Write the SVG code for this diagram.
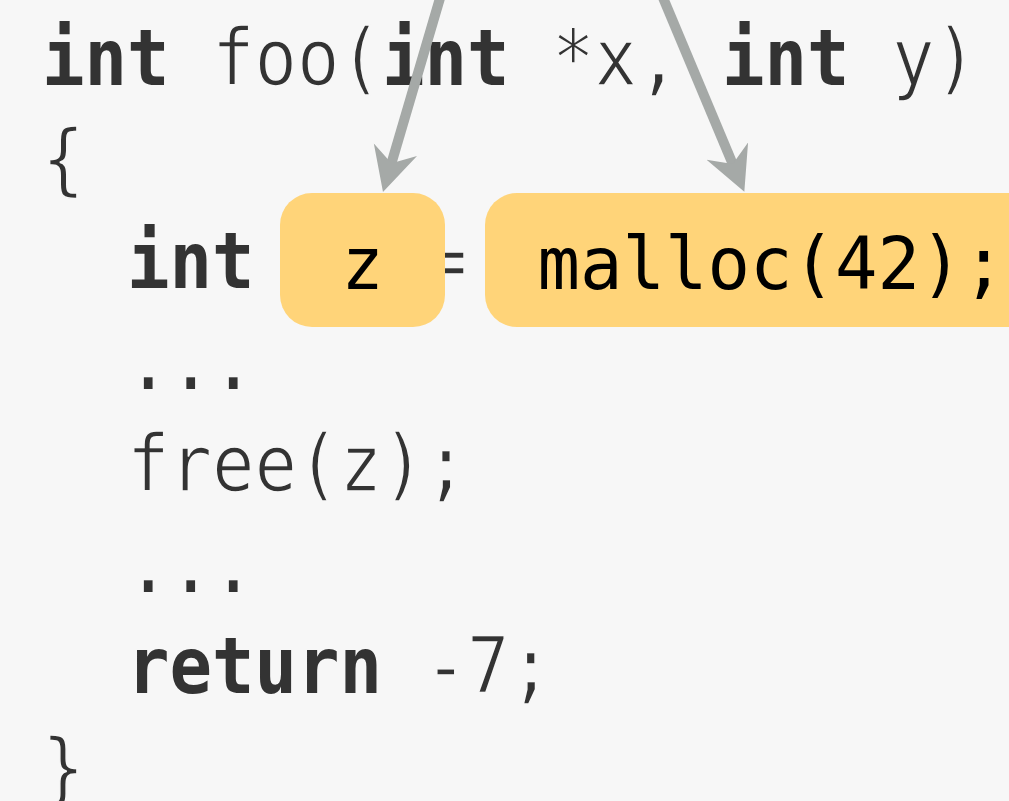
<svg xmlns="http://www.w3.org/2000/svg" width="1009" height="801" viewBox="0 0 1009 801">
  <style>
    .code { font-family: "DejaVu Sans Mono", "Liberation Mono", monospace; font-size: 78.5px; fill: #333333; }
    .lt { stroke: #f7f7f7; stroke-width: 1.6px; }
    .kw { font-weight: bold; }
    .hl { fill: #ffd479; }
    .hltext { font-family: "DejaVu Sans Mono", "Liberation Mono", monospace; font-size: 73px; fill: #000000; }
    .edge { fill: none; stroke: #a5a9a7; stroke-width: 10; marker-end: url(#head); }
  </style>
  <defs>
    <marker id="head" markerUnits="userSpaceOnUse" viewBox="0 -23 46 46" markerWidth="46" markerHeight="46" refX="16" refY="0" orient="auto">
      <path d="M44,0 L0,-22.5 L14,0 L0,22.5 Z" fill="#a5a9a7"/>
    </marker>
  </defs>
  <rect width="1009" height="801" fill="#f7f7f7"/>

  <!-- source listing on a 42.5px character grid -->
  <g id="code" class="code" transform="translate(42 0) scale(0.9 1)">
    <text x="0" y="85" class="kw">int</text>
    <text x="188.89" y="85" class="lt">foo(</text>
    <text x="377.78" y="85" class="kw">int</text>
    <text x="566.67" y="85" class="lt">*x,</text>
    <text x="755.56" y="85" class="kw">int</text>
    <text x="944.44" y="85" class="lt">y)</text>

    <text x="0" y="186.4" class="lt">{</text>

    <text x="94.44" y="287.8" class="kw">int</text>
    <text x="425" y="287.8" class="lt">=</text>

    <text x="94.44" y="389.2">...</text>
    <text x="94.44" y="490.6" class="lt">free(z);</text>
    <text x="94.44" y="592">...</text>

    <text x="94.44" y="693.4" class="kw">return</text>
    <text x="425" y="693.4" class="lt">-7;</text>

    <text x="0" y="794.8" class="lt">}</text>
  </g>

  <!-- highlighted expressions -->
  <g id="node-z">
    <rect class="hl" x="280" y="193" width="165" height="134" rx="32" ry="32"/>
    <text class="hltext" transform="translate(341.25 0) scale(0.967 1)" x="0" y="289.5">z</text>
  </g>
  <g id="node-malloc">
    <rect class="hl" x="485" y="193" width="580" height="134" rx="32" ry="32"/>
    <text class="hltext" transform="translate(537.5 0) scale(0.967 1)" x="0" y="289.5">malloc(42);</text>
  </g>

  <!-- pointers coming in from above -->
  <g id="edges">
    <path class="edge" d="M448.3,-30 L390.9,165.1"/>
    <path class="edge" d="M651.4,-30 L733.5,165.9"/>
  </g>
</svg>
